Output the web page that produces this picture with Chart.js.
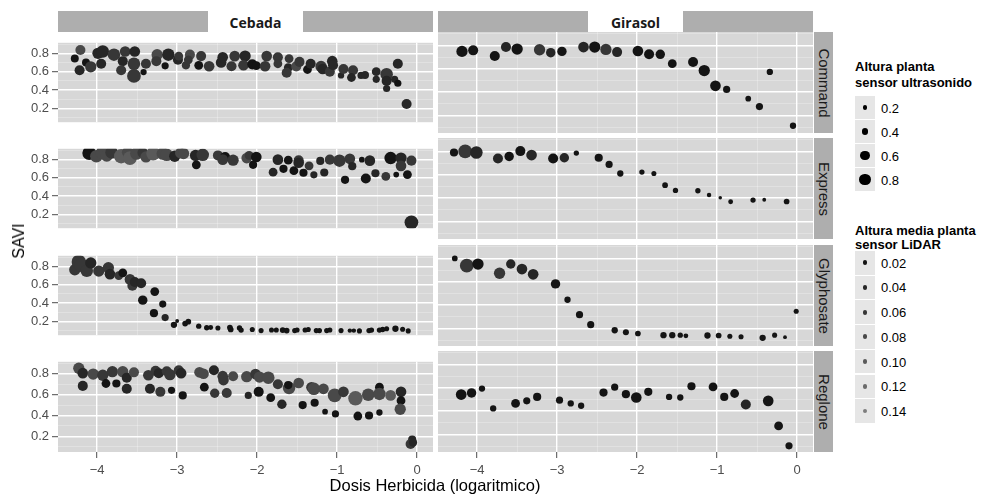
<!DOCTYPE html>
<html>
<head>
<meta charset="utf-8">
<script src="https://cdn.jsdelivr.net/npm/chart.js@4.4.1/dist/chart.umd.min.js"></script>
<style>
  body { margin: 0; background: #fff; width: 989px; height: 495px; position: relative; overflow: hidden;
         font-family: "Liberation Sans", Arial, sans-serif; }
  canvas, .box, .txt { position: absolute; }
  .txt { white-space: nowrap; color: #1a1a1a; }
</style>
</head>
<body>
<script>
// facets
var crops = ["Cebada", "Girasol"];
var herbicides = ["Command", "Express", "Glyphosate", "Reglone"];

// axes
var xTicks = [-4, -3.5, -3, -2.5, -2, -1.5, -1, -0.5, 0];
var yTicks = [0.1, 0.2, 0.3, 0.4, 0.5, 0.6, 0.7, 0.8, 0.9];
var xRange = [-4.49, 0.2];
var yRange = [0.05, 0.915];

// legends
var sizeLegend = [0.2, 0.4, 0.6, 0.8];
var colorLegend = [0.02, 0.04, 0.06, 0.08, 0.10, 0.12, 0.14];

// points: [dosis log, SAVI, altura ultrasonido, altura LiDAR]
var cebadaCommand = [[-4.28,0.743,0.43,0.02],[-4.21,0.837,0.6,0.08],[-4.22,0.616,0.6,0.04],[-4.14,0.70,0.43,0.02],[-4.08,0.653,0.7,0.06],[-3.99,0.80,0.7,0.04],[-3.93,0.82,0.8,0.04],[-3.95,0.687,0.6,0.04],[-3.79,0.786,0.8,0.06],[-3.68,0.715,0.6,0.04],[-3.70,0.616,0.6,0.06],[-3.65,0.82,0.65,0.06],[-3.53,0.82,0.65,0.04],[-3.54,0.687,0.8,0.06],[-3.54,0.554,0.9,0.06],[-3.42,0.596,0.3,0.02],[-3.39,0.687,0.6,0.06],[-3.25,0.786,0.7,0.08],[-3.26,0.715,0.6,0.06],[-3.15,0.664,0.37,0.02],[-3.11,0.786,0.8,0.04],[-2.99,0.73,0.6,0.04],[-2.98,0.77,0.5,0.06],[-2.89,0.67,0.45,0.06],[-2.84,0.786,0.6,0.08],[-2.86,0.73,0.5,0.06],[-2.73,0.67,0.5,0.02],[-2.70,0.77,0.6,0.06],[-2.60,0.66,0.65,0.06],[-2.45,0.70,0.65,0.04],[-2.43,0.757,0.65,0.04],[-2.32,0.66,0.6,0.06],[-2.28,0.77,0.65,0.06],[-2.15,0.77,0.7,0.04],[-2.17,0.67,0.65,0.06],[-2.06,0.68,0.6,0.02],[-2.01,0.667,0.5,0.02],[-1.90,0.66,0.65,0.06],[-1.88,0.77,0.65,0.06],[-1.74,0.757,0.6,0.06],[-1.74,0.687,0.5,0.06],[-1.60,0.743,0.5,0.06],[-1.61,0.644,0.5,0.04],[-1.63,0.588,0.6,0.06],[-1.51,0.658,0.6,0.08],[-1.47,0.707,0.6,0.06],[-1.37,0.624,0.5,0.02],[-1.33,0.687,0.6,0.04],[-1.20,0.658,0.7,0.06],[-1.18,0.63,0.65,0.04],[-1.09,0.60,0.6,0.06],[-1.06,0.715,0.65,0.04],[-1.05,0.67,0.6,0.04],[-0.95,0.56,0.3,0.04],[-0.92,0.63,0.6,0.06],[-0.80,0.616,0.6,0.06],[-0.82,0.537,0.5,0.04],[-0.70,0.56,0.37,0.04],[-0.65,0.565,0.43,0.04],[-0.51,0.60,0.5,0.04],[-0.51,0.517,0.37,0.04],[-0.38,0.573,0.8,0.06],[-0.38,0.50,0.6,0.04],[-0.38,0.417,0.37,0.04],[-0.28,0.517,0.37,0.04],[-0.24,0.474,0.37,0.02],[-0.24,0.687,0.6,0.04],[-0.13,0.248,0.6,0.04]];
var girasolCommand = [[-4.19,0.749,0.7,0.02],[-4.05,0.758,0.6,0.02],[-3.78,0.709,0.6,0.02],[-3.64,0.786,0.6,0.04],[-3.50,0.769,0.7,0.02],[-3.22,0.763,0.7,0.06],[-3.08,0.738,0.55,0.04],[-2.94,0.749,0.55,0.02],[-2.67,0.786,0.65,0.04],[-2.53,0.786,0.7,0.02],[-2.39,0.766,0.7,0.06],[-2.25,0.743,0.6,0.04],[-1.99,0.752,0.65,0.02],[-1.85,0.724,0.6,0.02],[-1.71,0.724,0.55,0.02],[-1.56,0.644,0.5,0.02],[-1.30,0.658,0.6,0.02],[-1.16,0.585,0.7,0.02],[-1.02,0.454,0.65,0.02],[-0.88,0.423,0.37,0.02],[-0.61,0.344,0.25,0.02],[-0.47,0.276,0.37,0.02],[-0.34,0.573,0.3,0.02],[-0.05,0.112,0.3,0.02]];
var cebadaExpress = [[-4.10,0.869,0.9,0.02],[-4.01,0.834,0.8,0.08],[-3.94,0.873,0.8,0.08],[-3.88,0.843,0.8,0.08],[-3.82,0.877,0.8,0.06],[-3.70,0.834,0.95,0.10],[-3.62,0.877,0.7,0.08],[-3.59,0.814,0.9,0.10],[-3.51,0.863,0.8,0.08],[-3.43,0.871,0.65,0.06],[-3.39,0.826,0.7,0.08],[-3.30,0.863,0.9,0.10],[-3.18,0.863,0.8,0.08],[-3.13,0.849,0.8,0.08],[-3.03,0.834,0.7,0.04],[-2.96,0.869,0.65,0.08],[-2.92,0.863,0.7,0.08],[-2.77,0.843,0.7,0.04],[-2.76,0.74,0.5,0.02],[-2.68,0.849,0.8,0.06],[-2.49,0.843,0.6,0.06],[-2.40,0.826,0.6,0.02],[-2.43,0.797,0.65,0.06],[-2.30,0.791,0.7,0.06],[-2.13,0.814,0.65,0.08],[-2.10,0.843,0.5,0.06],[-2.01,0.826,0.65,0.02],[-2.05,0.74,0.45,0.02],[-1.80,0.66,0.5,0.04],[-1.74,0.797,0.65,0.04],[-1.67,0.697,0.45,0.02],[-1.61,0.791,0.5,0.02],[-1.54,0.677,0.5,0.02],[-1.48,0.791,0.6,0.06],[-1.48,0.763,0.65,0.04],[-1.42,0.654,0.45,0.02],[-1.35,0.729,0.5,0.06],[-1.29,0.631,0.37,0.04],[-1.21,0.783,0.45,0.04],[-1.16,0.657,0.45,0.04],[-1.09,0.797,0.6,0.06],[-0.97,0.786,0.8,0.06],[-0.90,0.577,0.45,0.02],[-0.84,0.806,0.65,0.06],[-0.81,0.726,0.45,0.04],[-0.69,0.797,0.25,0.02],[-0.59,0.786,0.65,0.04],[-0.64,0.591,0.6,0.02],[-0.52,0.649,0.45,0.04],[-0.39,0.614,0.5,0.06],[-0.33,0.814,0.8,0.02],[-0.26,0.634,0.25,0.02],[-0.20,0.814,0.7,0.04],[-0.20,0.729,0.65,0.06],[-0.12,0.634,0.5,0.02],[-0.07,0.786,0.6,0.06],[-0.07,0.114,0.9,0.04]];
var girasolExpress = [[-4.29,0.791,0.45,0.02],[-4.15,0.80,0.9,0.06],[-4.01,0.791,0.8,0.04],[-3.74,0.74,0.6,0.04],[-3.60,0.757,0.55,0.02],[-3.46,0.803,0.6,0.02],[-3.32,0.769,0.65,0.04],[-3.05,0.74,0.6,0.02],[-2.91,0.746,0.55,0.04],[-2.76,0.786,0.22,0.02],[-2.48,0.746,0.45,0.02],[-2.35,0.689,0.37,0.02],[-2.21,0.611,0.3,0.02],[-1.94,0.623,0.22,0.02],[-1.79,0.611,0.2,0.02],[-1.65,0.511,0.25,0.02],[-1.52,0.466,0.22,0.02],[-1.24,0.463,0.22,0.02],[-1.10,0.426,0.15,0.02],[-0.96,0.403,0.08,0.02],[-0.83,0.369,0.18,0.02],[-0.55,0.383,0.22,0.02],[-0.41,0.386,0.1,0.02],[-0.13,0.371,0.25,0.02]];
var cebadaGlyphosate = [[-4.28,0.763,0.7,0.06],[-4.23,0.848,0.95,0.06],[-4.20,0.814,0.9,0.06],[-4.13,0.752,0.8,0.06],[-4.08,0.837,0.7,0.04],[-3.98,0.749,0.7,0.06],[-3.86,0.786,0.7,0.06],[-3.84,0.715,0.65,0.04],[-3.73,0.70,0.5,0.06],[-3.68,0.729,0.5,0.02],[-3.59,0.658,0.65,0.06],[-3.56,0.588,0.6,0.06],[-3.53,0.63,0.6,0.04],[-3.45,0.616,0.6,0.04],[-3.43,0.432,0.55,0.02],[-3.28,0.525,0.5,0.02],[-3.29,0.29,0.45,0.02],[-3.18,0.389,0.37,0.02],[-3.15,0.242,0.37,0.04],[-3.04,0.163,0.3,0.02],[-3.00,0.205,0.1,0.02],[-2.90,0.177,0.25,0.02],[-2.86,0.197,0.25,0.02],[-2.73,0.148,0.22,0.02],[-2.63,0.131,0.22,0.02],[-2.58,0.134,0.18,0.02],[-2.49,0.129,0.2,0.02],[-2.34,0.134,0.25,0.02],[-2.33,0.112,0.25,0.02],[-2.22,0.129,0.22,0.02],[-2.20,0.106,0.22,0.02],[-2.06,0.112,0.2,0.02],[-1.95,0.10,0.2,0.02],[-1.82,0.106,0.2,0.02],[-1.76,0.106,0.2,0.02],[-1.68,0.106,0.25,0.02],[-1.63,0.10,0.25,0.02],[-1.53,0.10,0.2,0.02],[-1.50,0.106,0.2,0.02],[-1.40,0.106,0.2,0.02],[-1.36,0.112,0.2,0.02],[-1.26,0.10,0.2,0.02],[-1.22,0.10,0.2,0.02],[-1.13,0.10,0.2,0.02],[-1.09,0.106,0.2,0.02],[-0.95,0.10,0.2,0.02],[-0.84,0.10,0.15,0.02],[-0.79,0.10,0.15,0.02],[-0.72,0.097,0.2,0.02],[-0.60,0.10,0.22,0.02],[-0.57,0.106,0.22,0.02],[-0.47,0.106,0.22,0.02],[-0.43,0.112,0.22,0.02],[-0.38,0.12,0.2,0.02],[-0.27,0.12,0.3,0.02],[-0.18,0.114,0.2,0.02],[-0.11,0.097,0.2,0.02]];
var girasolGlyphosate = [[-4.28,0.80,0.25,0.02],[-4.13,0.738,0.9,0.06],[-3.99,0.752,0.7,0.02],[-3.72,0.673,0.7,0.06],[-3.58,0.752,0.55,0.04],[-3.44,0.709,0.65,0.04],[-3.30,0.664,0.65,0.04],[-3.02,0.582,0.55,0.02],[-2.87,0.446,0.3,0.02],[-2.72,0.318,0.37,0.02],[-2.58,0.233,0.37,0.02],[-2.28,0.185,0.3,0.02],[-2.14,0.168,0.28,0.02],[-1.99,0.157,0.25,0.02],[-1.67,0.143,0.3,0.02],[-1.56,0.143,0.3,0.02],[-1.46,0.143,0.22,0.02],[-1.39,0.137,0.18,0.02],[-1.12,0.14,0.3,0.02],[-0.98,0.14,0.25,0.02],[-0.84,0.134,0.2,0.02],[-0.70,0.129,0.2,0.02],[-0.43,0.12,0.3,0.02],[-0.28,0.143,0.2,0.02],[-0.15,0.126,0.1,0.02],[-0.01,0.347,0.2,0.02]];
var cebadaReglone = [[-4.23,0.854,0.7,0.08],[-4.18,0.806,0.65,0.04],[-4.18,0.684,0.6,0.04],[-4.05,0.797,0.7,0.08],[-3.93,0.786,0.7,0.06],[-3.89,0.707,0.5,0.02],[-3.81,0.82,0.7,0.06],[-3.76,0.707,0.45,0.02],[-3.68,0.82,0.7,0.08],[-3.63,0.763,0.6,0.04],[-3.63,0.656,0.6,0.04],[-3.54,0.814,0.6,0.08],[-3.36,0.786,0.65,0.06],[-3.34,0.656,0.6,0.04],[-3.27,0.828,0.6,0.06],[-3.23,0.806,0.6,0.04],[-3.21,0.627,0.6,0.06],[-3.13,0.825,0.6,0.06],[-3.09,0.791,0.7,0.06],[-3.07,0.641,0.37,0.02],[-2.98,0.834,0.6,0.06],[-2.95,0.806,0.65,0.04],[-2.93,0.593,0.45,0.02],[-2.72,0.814,0.65,0.08],[-2.67,0.80,0.65,0.08],[-2.66,0.672,0.5,0.02],[-2.54,0.834,0.6,0.04],[-2.53,0.613,0.55,0.06],[-2.43,0.777,0.65,0.06],[-2.42,0.74,0.65,0.06],[-2.38,0.616,0.6,0.06],[-2.30,0.777,0.6,0.08],[-2.13,0.772,0.7,0.08],[-2.11,0.593,0.37,0.04],[-2.02,0.797,0.65,0.06],[-1.98,0.627,0.6,0.02],[-1.97,0.769,0.7,0.08],[-1.86,0.763,0.8,0.08],[-1.83,0.571,0.5,0.02],[-1.74,0.70,0.6,0.06],[-1.69,0.508,0.55,0.04],[-1.60,0.664,0.8,0.08],[-1.61,0.692,0.45,0.02],[-1.48,0.712,0.65,0.08],[-1.43,0.50,0.45,0.02],[-1.32,0.67,0.65,0.06],[-1.29,0.656,0.8,0.08],[-1.28,0.522,0.45,0.02],[-1.17,0.656,0.65,0.08],[-1.15,0.437,0.25,0.02],[-1.03,0.593,0.9,0.08],[-1.02,0.415,0.37,0.02],[-0.92,0.627,0.65,0.06],[-0.77,0.565,0.95,0.10],[-0.74,0.395,0.5,0.02],[-0.61,0.599,0.8,0.08],[-0.60,0.40,0.45,0.02],[-0.47,0.672,0.5,0.02],[-0.47,0.607,0.8,0.08],[-0.47,0.429,0.3,0.02],[-0.33,0.593,0.65,0.10],[-0.20,0.627,0.65,0.04],[-0.20,0.542,0.5,0.02],[-0.21,0.46,0.7,0.08],[-0.06,0.168,0.45,0.04],[-0.08,0.126,0.6,0.06],[-0.05,0.14,0.45,0.04]];
var girasolReglone = [[-4.20,0.542,0.65,0.02],[-4.07,0.556,0.55,0.02],[-3.94,0.593,0.3,0.02],[-3.80,0.423,0.3,0.02],[-3.52,0.466,0.5,0.02],[-3.38,0.488,0.37,0.02],[-3.25,0.522,0.45,0.02],[-2.97,0.494,0.37,0.02],[-2.83,0.466,0.3,0.02],[-2.70,0.446,0.3,0.02],[-2.42,0.559,0.45,0.02],[-2.28,0.605,0.37,0.02],[-2.14,0.545,0.45,0.02],[-2.01,0.517,0.65,0.02],[-1.86,0.565,0.45,0.02],[-1.60,0.522,0.3,0.02],[-1.46,0.517,0.3,0.02],[-1.32,0.613,0.45,0.02],[-1.05,0.607,0.5,0.02],[-0.91,0.522,0.45,0.02],[-0.78,0.551,0.5,0.02],[-0.64,0.457,0.6,0.04],[-0.36,0.488,0.65,0.02],[-0.23,0.273,0.5,0.02],[-0.10,0.103,0.37,0.02]];

var panels = [
  [cebadaCommand, girasolCommand],
  [cebadaExpress, girasolExpress],
  [cebadaGlyphosate, girasolGlyphosate],
  [cebadaReglone, girasolReglone]
];

// layout
var rowTop = [32, 138, 245, 351];
var panelH = 101;
var colLeft = [58, 438];
var panelW = 375;
var axisFont = { family: "Liberation Sans", size: 13 };

function radius(h) { return 1.3 + 6.2 * h; }
function grey(l) {
  var g = Math.round(20 + (l - 0.02) / 0.12 * 105);
  return "rgb(" + g + "," + g + "," + g + ")";
}
function isMajorX(v) { return Math.abs(v - Math.round(v)) < 1e-6; }
function isMajorY(v) { return Math.round(v * 10) % 2 === 0; }

function addBox(x, y, w, h, bg) {
  var d = document.createElement("div");
  d.className = "box";
  d.style.cssText = "left:" + x + "px;top:" + y + "px;width:" + w + "px;height:" + h + "px;background:" + bg;
  document.body.appendChild(d);
  return d;
}
function addText(txt, cx, cy, css, rot) {
  var d = document.createElement("div");
  d.className = "txt";
  d.textContent = txt;
  d.style.cssText = "left:" + cx + "px;top:" + cy + "px;transform:translate(-50%,-50%)" + (rot ? " rotate(" + rot + "deg)" : "") + ";" + (css || "");
  document.body.appendChild(d);
  return d;
}

var panelBg = {
  id: "panelBg",
  beforeDraw: function (chart) {
    var a = chart.chartArea, c = chart.ctx;
    c.save();
    c.fillStyle = "#D7D7D7";
    c.fillRect(a.left, a.top, a.right - a.left, a.bottom - a.top);
    c.restore();
  }
};

function makePanel(row, col) {
  var pts = panels[row][col];
  var showY = col === 0, showX = row === 3;
  var canvas = document.createElement("canvas");
  var left = showY ? 0 : colLeft[col];
  canvas.width = panelW + (showY ? colLeft[0] : 0);
  canvas.height = panelH + (showX ? 32 : 0);
  canvas.style.left = left + "px";
  canvas.style.top = rowTop[row] + "px";
  document.body.appendChild(canvas);

  new Chart(canvas, {
    type: "bubble",
    data: {
      datasets: [{
        data: pts.map(function (p) { return { x: p[0], y: p[1], r: radius(p[2]) }; }),
        backgroundColor: pts.map(function (p) { return grey(p[3]); }),
        borderWidth: 0,
        hoverRadius: 0
      }]
    },
    plugins: [panelBg],
    options: {
      responsive: false,
      animation: false,
      events: [],
      layout: { padding: 0, autoPadding: false },
      plugins: { legend: { display: false }, tooltip: { enabled: false } },
      scales: {
        x: {
          type: "linear", min: xRange[0], max: xRange[1],
          afterBuildTicks: function (s) { s.ticks = xTicks.map(function (v) { return { value: v }; }); },
          afterFit: function (s) { s.height = showX ? 32 : 0; },
          border: { display: false },
          grid: {
            color: function (c) { return isMajorX(c.tick.value) ? "#ffffff" : "rgba(255,255,255,0.45)"; },
            lineWidth: function (c) { return isMajorX(c.tick.value) ? 1.4 : 0.6; },
            drawTicks: showX, tickLength: 6, tickWidth: 1,
            tickColor: function (c) { return isMajorX(c.tick.value) ? "#4d4d4d" : "rgba(0,0,0,0)"; }
          },
          ticks: {
            display: showX, autoSkip: false, maxRotation: 0, padding: 5,
            color: "#4d4d4d", font: axisFont,
            callback: function (v) { return isMajorX(v) ? (v < 0 ? "\u2212" + Math.abs(v) : String(Math.round(v))) : ""; }
          }
        },
        y: {
          type: "linear", min: yRange[0], max: yRange[1],
          afterBuildTicks: function (s) { s.ticks = yTicks.map(function (v) { return { value: v }; }); },
          afterFit: function (s) { s.width = showY ? colLeft[0] : 0; },
          border: { display: false },
          grid: {
            color: function (c) { return isMajorY(c.tick.value) ? "#ffffff" : "rgba(255,255,255,0.45)"; },
            lineWidth: function (c) { return isMajorY(c.tick.value) ? 1.4 : 0.6; },
            drawTicks: showY, tickLength: 6, tickWidth: 1,
            tickColor: function (c) { return isMajorY(c.tick.value) ? "#4d4d4d" : "rgba(0,0,0,0)"; }
          },
          ticks: {
            display: showY, autoSkip: false, padding: 3,
            color: "#4d4d4d", font: axisFont,
            callback: function (v) { return isMajorY(v) ? v.toFixed(1) : ""; }
          }
        }
      }
    }
  });
}

for (var r = 0; r < herbicides.length; r++) {
  for (var c = 0; c < crops.length; c++) makePanel(r, c);
}

// strips on top
crops.forEach(function (name, i) {
  addBox(colLeft[i], 11, panelW, 21, "#AEAEAE");
  addBox(colLeft[i] + 150, 11, 95, 21, "#ffffff");
  addText(name, colLeft[i] + 197.5, 21.5, "font-family:'Open Sans';font-weight:bold;font-size:14px;");
});
// strips on the right
herbicides.forEach(function (name, i) {
  addBox(814, rowTop[i], 19, panelH, "#AEAEAE");
  addText(name, 823.5, rowTop[i] + panelH / 2, "font-size:15px;", 90);
});

// axis titles
addText("SAVI", 19, 241, "font-size:16px;color:#000;", -90);
addText("Dosis Herbicida (logaritmico)", 435, 485, "font-size:16.5px;color:#000;");

// legend: size
var legTitle = "font-size:13px;font-weight:bold;color:#000;transform:translate(0,-50%)";
var legLabel = "font-size:13px;color:#000;transform:translate(0,-50%)";
addText("Altura planta", 855, 66, legTitle);
addText("sensor ultrasonido", 855, 82, legTitle);
var sizeKeyY = [96, 120, 144, 168];
sizeLegend.forEach(function (v, i) {
  addBox(855, sizeKeyY[i], 20, 23, "#E6E6E6");
  var rr = radius(v) - 0.3;
  var dot = addBox(865 - rr, sizeKeyY[i] + 11.5 - rr, 2 * rr, 2 * rr, "#000");
  dot.style.borderRadius = "50%";
  addText(v.toFixed(1), 881, sizeKeyY[i] + 11.5, legLabel);
});

// legend: colour
addText("Altura media planta", 855, 230, legTitle);
addText("sensor LiDAR", 855, 244, legTitle);
colorLegend.forEach(function (v, i) {
  var y0 = 251 + i * 24.7;
  addBox(855, y0, 20, 23.5, "#E6E6E6");
  var rr = 2.4;
  var dot = addBox(865 - rr, y0 + 11.75 - rr, 2 * rr, 2 * rr, grey(v));
  dot.style.borderRadius = "50%";
  addText(v.toFixed(2), 881, y0 + 11.75, legLabel);
});
</script>
</body>
</html>
